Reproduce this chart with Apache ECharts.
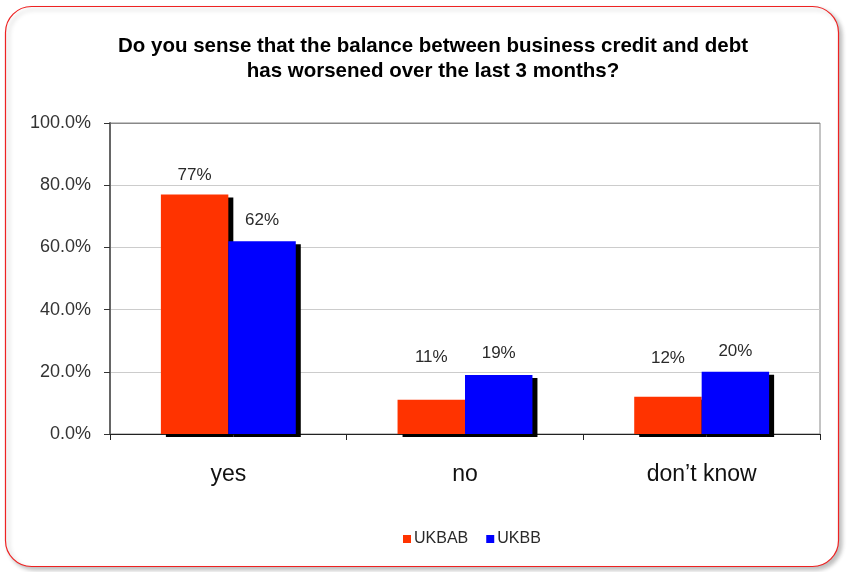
<!DOCTYPE html>
<html>
<head>
<meta charset="utf-8">
<script src="https://cdn.jsdelivr.net/npm/echarts@6/dist/echarts.min.js"></script>
<style>
  html, body { margin: 0; padding: 0; background: #ffffff; }
  #chart { width: 847px; height: 572px; }
</style>
</head>
<body>
<div id="chart"></div>
<script>
// Survey answers, share of respondents (%)
const categories = ['yes', 'no', 'don\u2019t know'];
const ukbab = [77, 11, 12];
const ukbb = [62, 19, 20];
const seriesNames = ['UKBAB', 'UKBB'];
const yTicks = [0, 20, 40, 60, 80, 100];

// Gap in pixels between each bar top and its value label
const labelGapUkbab = [11, 34, 30];
const labelGapUkbb = [12, 13, 12];

const chart = echarts.init(document.getElementById('chart'));

const font = '"Liberation Sans", Arial, sans-serif';

function barSeries(name, values, gaps, color) {
  return {
    name: name,
    type: 'bar',
    data: values.map((v, i) => ({ value: v, label: { distance: gaps[i] } })),
    barGap: '0%',
    barCategoryGap: '43%',
    itemStyle: {
      color: color,
      shadowColor: '#000000',
      shadowBlur: 0,
      shadowOffsetX: 5,
      shadowOffsetY: 3
    },
    label: {
      show: true,
      position: 'top',
      formatter: p => p.value + '%',
      fontFamily: font,
      fontSize: 17,
      color: '#2a2a2a'
    }
  };
}

chart.setOption({
  animation: false,
  backgroundColor: '#ffffff',
  graphic: [{
    type: 'rect',
    shape: { x: 5.5, y: 6.5, width: 833, height: 560, r: 26 },
    style: {
      fill: '#ffffff',
      stroke: '#ee2222',
      lineWidth: 1.2,
      shadowColor: 'rgba(0,0,0,0.25)',
      shadowBlur: 4,
      shadowOffsetX: 3,
      shadowOffsetY: 3
    },
    z: -10
  }],
  title: {
    text: 'Do you sense that the balance between business credit and debt\nhas worsened over the last 3 months?',
    left: 428,
    textAlign: 'center',
    top: 29,
    textStyle: {
      fontFamily: font,
      fontWeight: 'bold',
      fontSize: 20.5,
      lineHeight: 25,
      color: '#000000'
    }
  },
  legend: {
    data: seriesNames,
    top: 526,
    left: 398,
    itemWidth: 8,
    itemHeight: 8,
    itemGap: 18,
    icon: 'rect',
    textStyle: { fontFamily: font, fontSize: 16, color: '#2a2a2a', padding: [0, 0, 0, -2] }
  },
  grid: {
    left: 110,
    right: 27,
    top: 123,
    bottom: 138,
    show: true,
    borderColor: '#888888',
    borderWidth: 1
  },
  xAxis: {
    type: 'category',
    data: categories,
    axisLine: { lineStyle: { color: '#222222', width: 1 } },
    axisTick: { show: true, length: 6, lineStyle: { color: '#222222' } },
    axisLabel: {
      fontFamily: font,
      fontSize: 23,
      color: '#111111',
      margin: 29
    }
  },
  yAxis: {
    type: 'value',
    min: yTicks[0],
    max: yTicks[yTicks.length - 1],
    interval: 20,
    axisLine: { show: true, lineStyle: { color: '#666666', width: 2 } },
    axisTick: { show: true, length: 6, lineStyle: { color: '#333333' } },
    axisLabel: {
      fontFamily: font,
      fontSize: 18,
      color: '#333333',
      margin: 19,
      formatter: v => v.toFixed(1) + '%'
    },
    splitLine: { lineStyle: { color: ['#888888', '#cccccc', '#cccccc', '#cccccc', '#cccccc', '#888888'] } }
  },
  series: [
    barSeries(seriesNames[0], ukbab, labelGapUkbab, '#ff3300'),
    barSeries(seriesNames[1], ukbb, labelGapUkbb, '#0000ff')
  ]
});
</script>
</body>
</html>
